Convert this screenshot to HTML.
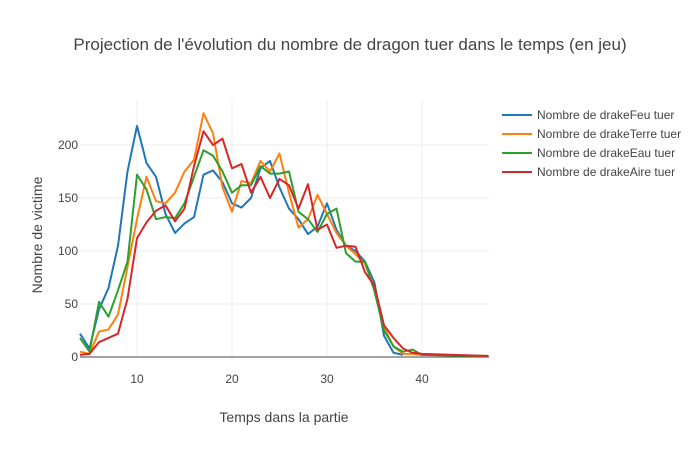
<!DOCTYPE html>
<html><head><meta charset="utf-8"><style>
body{margin:0;background:#fff;font-family:"Liberation Sans",sans-serif}
svg text{font-family:"Liberation Sans",sans-serif;fill:#444}
</style></head><body>
<svg id="c" width="700" height="450">
<text x="350" y="50" text-anchor="middle" font-size="17">Projection de l'évolution du nombre de dragon tuer dans le temps (en jeu)</text>
<text x="284" y="422" text-anchor="middle" font-size="14">Temps dans la partie</text>
<text transform="translate(42,235) rotate(-90)" text-anchor="middle" font-size="14">Nombre de victime</text>
<g id="grid"></g><g id="series"></g><g id="legend"></g>
</svg>
<script>
const xTicks=[10,20,30,40];
const yTicks=[0,50,100,150,200];
const seriesNames=["Nombre de drakeFeu tuer","Nombre de drakeTerre tuer","Nombre de drakeEau tuer","Nombre de drakeAire tuer"];
const colors=["#1f77b4","#ff7f0e","#2ca02c","#d62728"];
const xFeu=[4,5,6,7,8,9,10,11,12,13,14,15,16,17,18,19,20,21,22,23,24,25,26,27,28,29,30,31,32,33,34,35,36,37,38];
const feu=[22,8,45,65,105,175,218,183,170,135,117,126,132,172,176,165,145,141,150,178,185,160,140,130,116,123,145,120,105,100,90,70,20,4,2];
const xRest=[4,5,6,7,8,9,10,11,12,13,14,15,16,17,18,19,20,21,22,23,24,25,26,27,28,29,30,31,32,33,34,35,36,37,38,39,40,47];
const terre=[5,3,24,26,40,85,130,170,147,145,155,175,186,230,211,160,137,166,164,185,175,192,155,122,130,153,135,117,105,97,88,65,28,10,3,3,2,1];
const eau=[18,5,52,38,63,90,172,158,130,132,131,145,170,195,190,175,155,162,162,180,173,173,175,137,130,118,135,140,98,90,90,62,25,10,5,7,2,1];
const aire=[2,3,14,18,22,55,112,127,138,143,128,140,180,213,200,206,178,182,155,170,150,168,162,140,163,120,125,103,105,104,80,67,30,18,8,4,3,1];
const X=v=>80+(v-4)*9.5, Y=v=>357-v*1.06;
const NS="http://www.w3.org/2000/svg";
function mk(t,a,p){const e=document.createElementNS(NS,t);for(const k in a)e.setAttribute(k,a[k]);p.appendChild(e);return e;}
const g=document.getElementById('grid');
xTicks.forEach(t=>{const l=mk('line',{x1:X(t),x2:X(t),y1:100,y2:357,stroke:'#eee'},g);


const tx=mk('text',{x:X(t),y:383,'text-anchor':'middle','font-size':12},g);tx.textContent=t;

});
yTicks.forEach(t=>{if(t>0){const l=mk('line',{x1:80,x2:489,y1:Y(t),y2:Y(t),stroke:'#eee'},g);

}
const tx=mk('text',{x:78,y:Y(t)+4,'text-anchor':'end','font-size':12},g);tx.textContent=t;

});
const z=mk('line',{x1:80,x2:489,y1:357,y2:357,stroke:'#444','stroke-width':1},g);


const s=document.getElementById('series');
const data=[[xFeu,feu],[xRest,terre],[xRest,eau],[xRest,aire]];
data.forEach((d,i)=>{const pts=d[0].map((x,j)=>X(x)+','+Y(d[1][j])).join(' ');
const p=mk('polyline',{points:pts,fill:'none',stroke:colors[i],'stroke-width':2,'stroke-linejoin':'round'},s);

});
const lg=document.getElementById('legend');
seriesNames.forEach((n,i)=>{const y=115+i*19;
const gi=mk('g',{},lg);


mk('line',{x1:502,x2:532,y1:y,y2:y,stroke:colors[i],'stroke-width':2},gi);
const t=mk('text',{x:537,y:y+4,'font-size':12},gi);t.textContent=n;});
</script>
</body></html>
